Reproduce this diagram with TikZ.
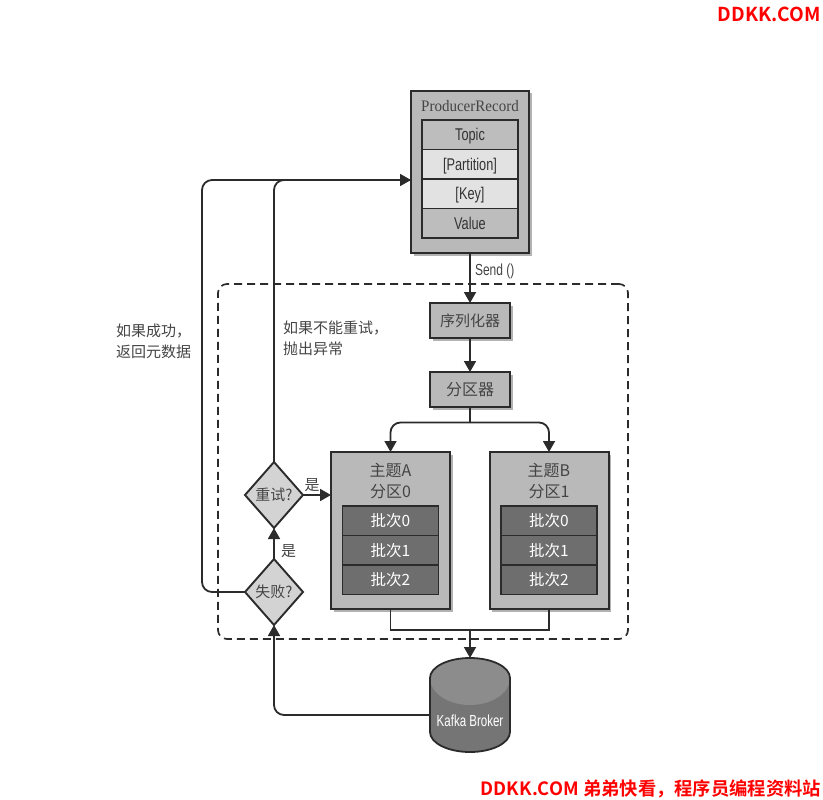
\documentclass[tikz,border=0pt]{standalone}
\usepackage{fontspec}
\setmainfont{Liberation Sans}
\newfontfamily\cjk{Noto Sans CJK SC}
\newfontfamily\cjkbold{Noto Sans CJK SC Bold}
\newfontfamily\serifnarrow{Liberation Serif}
\usetikzlibrary{arrows.meta,positioning,shapes.geometric,shadows}
\definecolor{boxgray}{HTML}{B9B9B9}
\definecolor{lightgray2}{HTML}{E2E2E2}
\definecolor{midgray}{HTML}{BDBDBD}
\definecolor{darkgray2}{HTML}{6E6E6E}
\definecolor{linegray}{HTML}{2B2B2B}
\definecolor{textgray}{HTML}{444444}
\begin{document}
\begin{tikzpicture}[x=1pt,y=-1pt,
	every node/.style={inner sep=0pt,outer sep=0pt,text=textgray},
	box/.style={draw=linegray,line width=2pt,fill=boxgray,minimum width=#1,
		drop shadow={shadow xshift=2.5pt,shadow yshift=-2.5pt,fill=black,opacity=.3}},
	field/.style={draw=linegray,line width=1.6pt,fill=#1,minimum width=96pt,minimum height=29.5pt,text=black!80,
		text height=14pt,text depth=2.3pt,font=\fontsize{17}{17}\selectfont},
	batch/.style={draw=linegray,line width=1.6pt,fill=darkgray2,minimum width=96pt,minimum height=29.5pt,text=white,font=\cjk\fontsize{15.5}{15.5}\selectfont},
	check/.style={shape=diamond,aspect=.88,draw=linegray,line width=1.9pt,fill=lightgray2!85!gray,minimum width=58pt,minimum height=66pt,font=\cjk\fontsize{15}{15}\selectfont},
	edge/.style={-{Triangle[length=11pt,width=12pt]},draw=linegray,line width=1.8pt,rounded corners=10pt},
	plain/.style={draw=linegray,line width=1.8pt,rounded corners=10pt},
	tag/.style={font=\cjk\fontsize{15}{21}\selectfont,align=left,text=textgray}]
	\useasboundingbox (0,0) rectangle (823,800);
	% watermark
	\node[text=red,font=\cjkbold\fontsize{19.2}{19.2}\selectfont,anchor=east] (sitetop) at (821,14) {DDKK.COM};
	\node[text=red,font=\cjkbold\fontsize{18.3}{18.3}\selectfont,anchor=east] (sitebottom) at (821,789) {DDKK.COM 弟弟快看，程序员编程资料站};
	% dashed group
	\node[draw=linegray,line width=1.7pt,dashed,dash pattern=on 8pt off 5pt,rounded corners=9pt,minimum width=410pt,minimum height=355pt] (group) at (423,461.5) {};
	% producer record
	\node[box=118pt,minimum height=162pt] (record) at (470,172) {};
	\node[font=\serifnarrow\fontsize{16}{16}\selectfont,xscale=.94] (recordname) at (470,106) {ProducerRecord};
	\node[field=midgray] (topic) at (470,134.75) {\scalebox{.75}[1]{Topic}};
	\node[field=lightgray2,below=0pt of topic] (partition) {\scalebox{.75}[1]{[Partition]}};
	\node[field=lightgray2,below=0pt of partition] (key) {\scalebox{.75}[1]{[Key]}};
	\node[field=midgray,below=0pt of key] (value) {\scalebox{.75}[1]{Value}};
	% serializer and partitioner
	\node[box=80pt,minimum height=35pt,font=\cjk\fontsize{15}{15}\selectfont] (serializer) at (470,320.5) {序列化器};
	\node[box=80pt,minimum height=35pt,font=\cjk\fontsize{16}{16}\selectfont] (partitioner) at (470,389.5) {分区器};
	% topics
	\node[box=119pt,minimum height=157pt] (topica) at (390.5,530.5) {};
	\node[box=119pt,minimum height=157pt] (topicb) at (549,530.5) {};
	\node[font=\cjk\fontsize{16}{21}\selectfont,align=center] (topicaname) at (390.5,481) {主题A\\分区0};
	\node[font=\cjk\fontsize{16}{21}\selectfont,align=center] (topicbname) at (549,481) {主题B\\分区1};
	\node[batch] (a0) at (390.5,520.75) {批次0};
	\node[batch,below=0pt of a0] (a1) {批次1};
	\node[batch,below=0pt of a1] (a2) {批次2};
	\node[batch] (b0) at (549,520.75) {批次0};
	\node[batch,below=0pt of b0] (b1) {批次1};
	\node[batch,below=0pt of b1] (b2) {批次2};
	% decisions
	\node[check] (retry) at (274,495) {重试?};
	\node[check] (fail) at (274,592) {失败?};
	% broker
	\node[minimum width=80pt,minimum height=94pt] (broker) at (470,705) {};
	\fill[darkgray2!95!white] (430,678) arc[x radius=40,y radius=-20,start angle=180,end angle=0] -- (510,732)
		arc[x radius=40,y radius=-20,start angle=0,end angle=-180] -- cycle;
	\fill[black!45] (430,678) arc[x radius=40,y radius=-20,start angle=180,end angle=0]
		arc[x radius=40,y radius=-27,start angle=0,end angle=-180] -- cycle;
	\draw[draw=linegray,line width=1.8pt] (430,678) arc[x radius=40,y radius=-20,start angle=180,end angle=0] -- (510,732)
		arc[x radius=40,y radius=-20,start angle=0,end angle=-180] -- cycle;
	\node[text=white,font=\fontsize{16}{16}\selectfont] (brokername) at (470,721) {\scalebox{.72}[1]{Kafka Broker}};
	% helpers
	\coordinate (mainturn) at (202,180);
	\coordinate (retryturn) at (274,180);
	\coordinate (split) at (470,422.5);
	\coordinate (joina) at (390.5,630);
	\coordinate (joinb) at (549,630);
	\coordinate (joinmid) at (470,630);
	\coordinate (brokerexit) at (430,715);
	% connectors
	\draw[edge] (record) -- node[right=5pt,pos=.36,font=\fontsize{16}{16}\selectfont] {\scalebox{.75}[1]{Send ()}} (serializer);
	\draw[edge] (serializer) -- (partitioner);
	\draw[plain] (partitioner) -- (split);
	\draw[edge] (split) -| (topica);
	\draw[edge] (split) -| (topicb);
	\draw[plain,rounded corners=0pt] (topica) |- (joina) -- (joinb) -- (topicb);
	\draw[edge] (joinmid) -- (broker.north);
	\draw[edge] (brokerexit) -| (fail.south);
	\draw[edge] (fail) -- node[right=7pt,pos=.25,tag] {是} (retry);
	\draw[edge] (retry) -- node[above=3pt,pos=.33,tag] {是} (retry -| topica.west);
	\draw[plain] (retry) -- (retryturn) -- (record.west |- retryturn);
	\draw[edge] (fail) -| (mainturn) -- (record.west |- mainturn);
	% captions
	\node[tag,anchor=west] (oklabel) at (116,341) {如果成功，\\返回元数据};
	\node[tag,anchor=west] (faillabel) at (283,338) {如果不能重试，\\抛出异常};
\end{tikzpicture}
\end{document}
